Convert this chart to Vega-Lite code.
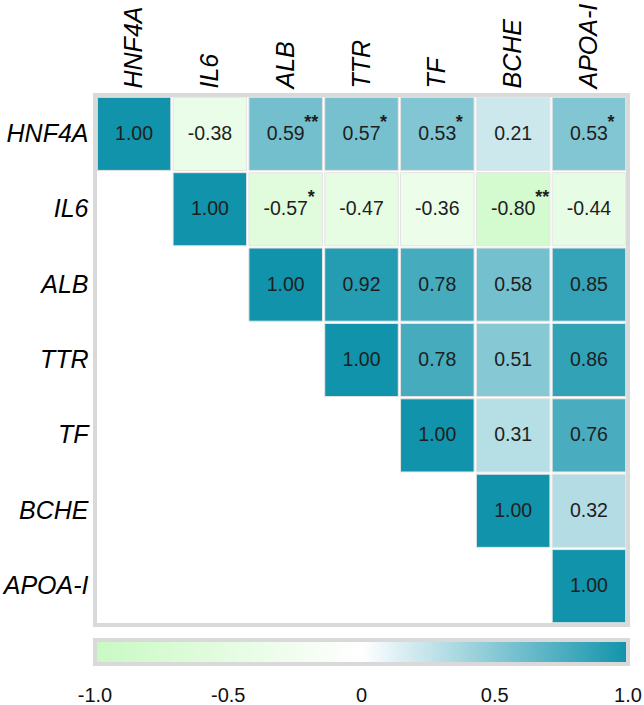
{
  "$schema": "https://vega.github.io/schema/vega-lite/v6.json",
  "width": 533,
  "height": 530,
  "autosize": "none",
  "padding": {"left": 95, "top": 95, "right": 16, "bottom": 80},
  "background": "white",
  "config": {
    "locale": {"number": {"decimal": ".", "thousands": ",", "grouping": [3], "currency": ["$", ""], "minus": "-"}},
    "view": {"stroke": "#d9d9d9", "strokeWidth": 4},
    "font": "Liberation Sans"
  },
  "data": {
    "values": [
      {"row": "HNF4A", "col": "HNF4A", "r": 1.00, "sig": ""},
      {"row": "HNF4A", "col": "IL6", "r": -0.38, "sig": ""},
      {"row": "HNF4A", "col": "ALB", "r": 0.59, "sig": "**"},
      {"row": "HNF4A", "col": "TTR", "r": 0.57, "sig": "*"},
      {"row": "HNF4A", "col": "TF", "r": 0.53, "sig": "*"},
      {"row": "HNF4A", "col": "BCHE", "r": 0.21, "sig": ""},
      {"row": "HNF4A", "col": "APOA-I", "r": 0.53, "sig": "*"},
      {"row": "IL6", "col": "IL6", "r": 1.00, "sig": ""},
      {"row": "IL6", "col": "ALB", "r": -0.57, "sig": "*"},
      {"row": "IL6", "col": "TTR", "r": -0.47, "sig": ""},
      {"row": "IL6", "col": "TF", "r": -0.36, "sig": ""},
      {"row": "IL6", "col": "BCHE", "r": -0.80, "sig": "**"},
      {"row": "IL6", "col": "APOA-I", "r": -0.44, "sig": ""},
      {"row": "ALB", "col": "ALB", "r": 1.00, "sig": ""},
      {"row": "ALB", "col": "TTR", "r": 0.92, "sig": ""},
      {"row": "ALB", "col": "TF", "r": 0.78, "sig": ""},
      {"row": "ALB", "col": "BCHE", "r": 0.58, "sig": ""},
      {"row": "ALB", "col": "APOA-I", "r": 0.85, "sig": ""},
      {"row": "TTR", "col": "TTR", "r": 1.00, "sig": ""},
      {"row": "TTR", "col": "TF", "r": 0.78, "sig": ""},
      {"row": "TTR", "col": "BCHE", "r": 0.51, "sig": ""},
      {"row": "TTR", "col": "APOA-I", "r": 0.86, "sig": ""},
      {"row": "TF", "col": "TF", "r": 1.00, "sig": ""},
      {"row": "TF", "col": "BCHE", "r": 0.31, "sig": ""},
      {"row": "TF", "col": "APOA-I", "r": 0.76, "sig": ""},
      {"row": "BCHE", "col": "BCHE", "r": 1.00, "sig": ""},
      {"row": "BCHE", "col": "APOA-I", "r": 0.32, "sig": ""},
      {"row": "APOA-I", "col": "APOA-I", "r": 1.00, "sig": ""}
    ]
  },
  "encoding": {
    "x": {
      "field": "col", "type": "nominal",
      "sort": ["HNF4A", "IL6", "ALB", "TTR", "TF", "BCHE", "APOA-I"],
      "scale": {"paddingInner": 0.03, "paddingOuter": 0.03},
      "axis": {"orient": "top", "title": null, "domain": false, "ticks": false, "labelAngle": -90, "labelAlign": "left", "labelBaseline": "middle", "labelFontSize": 25, "labelFontStyle": "italic", "labelColor": "#000000", "labelPadding": 7, "grid": false}
    },
    "y": {
      "field": "row", "type": "nominal",
      "sort": ["HNF4A", "IL6", "ALB", "TTR", "TF", "BCHE", "APOA-I"],
      "scale": {"paddingInner": 0.03, "paddingOuter": 0.03},
      "axis": {"title": null, "domain": false, "ticks": false, "labelFontSize": 25, "labelFontStyle": "italic", "labelColor": "#000000", "labelPadding": 7, "grid": false}
    }
  },
  "layer": [
    {
      "mark": {"type": "rect", "stroke": "#e4e4e4", "strokeWidth": 1},
      "encoding": {
        "color": {
          "field": "r", "type": "quantitative",
          "scale": {"domain": [-1, 0, 1], "range": ["#c9f9c3", "#ffffff", "#1193ab"], "interpolate": "rgb"},
          "legend": {
            "orient": "none", "legendX": 0, "legendY": 545, "direction": "horizontal",
            "title": null, "padding": 0,
            "gradientLength": 533, "gradientThickness": 24,
            "gradientStrokeColor": "#d9d9d9", "gradientStrokeWidth": 4,
            "values": [-1, -0.5, 0, 0.5, 1],
            "labelExpr": "datum.value == 0 ? '0' : format(datum.value, '.1f')",
            "labelFontSize": 20, "labelColor": "#111111", "labelOffset": 22,
            "labelAlign": "center", "labelOverlap": false,
            "encode": {"labels": {"update": {"align": {"value": "center"}}}}
          }
        }
      }
    },
    {
      "mark": {"type": "text", "fontSize": 19.5, "color": "#1e1e1e", "baseline": "middle", "align": "center"},
      "encoding": {"text": {"field": "r", "type": "quantitative", "format": ".2f"}}
    },
    {
      "transform": [{"filter": "datum.sig != '' && datum.r >= 0"}],
      "mark": {"type": "text", "fontSize": 18, "fontWeight": "bold", "color": "#1e1e1e", "baseline": "middle", "align": "left", "dx": 18.5, "dy": -11},
      "encoding": {"text": {"field": "sig", "type": "nominal"}}
    },
    {
      "transform": [{"filter": "datum.sig != '' && datum.r < 0"}],
      "mark": {"type": "text", "fontSize": 18, "fontWeight": "bold", "color": "#1e1e1e", "baseline": "middle", "align": "left", "dx": 22, "dy": -11},
      "encoding": {"text": {"field": "sig", "type": "nominal"}}
    }
  ]
}
